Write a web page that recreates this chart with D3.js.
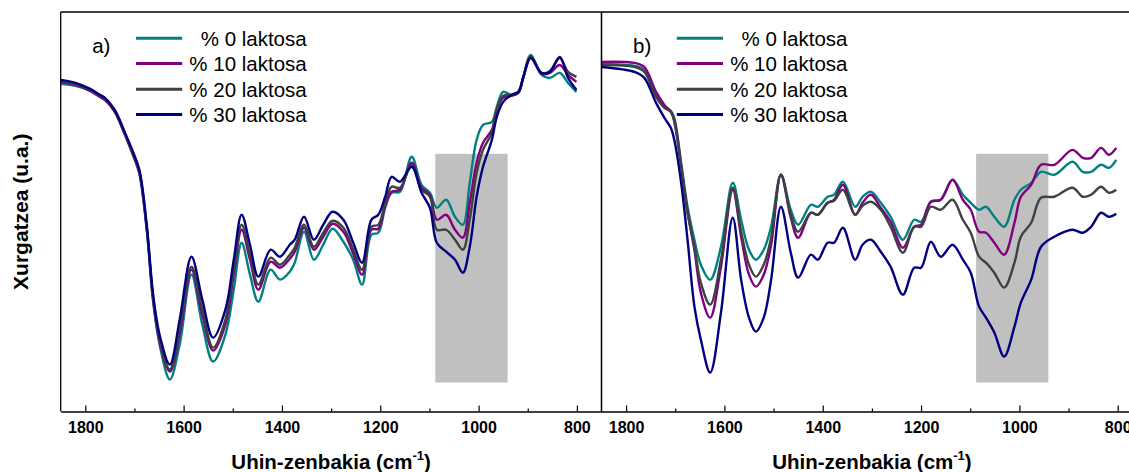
<!DOCTYPE html>
<html>
<head>
<meta charset="utf-8">
<script src="https://cdn.jsdelivr.net/npm/d3@7"></script>
<style>
  html, body { margin: 0; padding: 0; background: #fff; }
  svg { display: block; }
  text { font-family: "Liberation Sans", Arial, sans-serif; fill: #000; }
</style>
</head>
<body>
<svg id="chart" width="1129" height="472"></svg>
<script>
// ---------------- DATA ----------------
const seriesLabels = ["% 0 laktosa", "% 10 laktosa", "% 20 laktosa", "% 30 laktosa"];
const seriesColors = ["#008080", "#800080", "#404040", "#000080"];
const panelLabels = ["a)", "b)"];
const xTickValues = [1800, 1600, 1400, 1200, 1000, 800];
const xMinorTicks = [1700, 1500, 1300, 1100, 900];
const xDomain = [1850, 750];
const yDomain = [0, 400];
const highlightBand = [1088, 941];
const highlightRange = [29, 258];

// panel a
const wnA = [1850,1820,1790,1770,1760,1740,1720,1703,1690,1675,
             1662,1648,1628,1608,1584,1562,1540,1515,1498,1482,
             1465,1448,1423,1404,1384,1374,1355,1335,1316,1297,
             1275,1255,1237,1218,1204,1190,1177,1160,1136,1116,
             1099,1085,1066,1048,1032,1018,1004,991,973,963,
             950,933,919,909,894,872,855,835,818,801];
const a0  = [328,326,321,315,312,300,278,257,238,182, 110,65,32,67,137,87,50,77,122,169,
             137,110,142,132,140,149,180,152,167,183, 170,152,127,177,179,204,219,220,255,227,
             219,204,212,195,187,229,272,287,290,305, 320,317,320,335,357,337,334,339,329,320];
const a10 = [330,327,321,315,312,300,278,257,239,183, 112,68,40,77,142,97,61,87,137,182,
             152,122,150,144,153,160,184,162,175,188, 180,158,137,182,183,206,220,222,249,224,
             217,192,197,182,174,209,249,269,282,302, 314,316,319,334,355,338,339,347,337,330];
const a20 = [331,328,322,316,313,301,279,258,240,184, 114,70,42,82,145,102,64,92,142,187,
             157,127,154,147,157,164,187,165,179,191, 184,162,142,185,187,209,225,224,247,222,
             215,182,182,172,162,192,239,262,279,302, 316,317,320,335,356,339,341,354,340,335];
const a30 = [332,329,323,317,314,302,280,260,242,187, 117,75,47,92,155,112,74,102,152,197,
             167,135,162,155,167,172,195,172,187,200, 192,169,149,192,197,215,235,230,245,219,
             204,169,160,152,139,165,215,245,272,295, 310,317,320,335,354,339,340,355,334,322];

// panel b
const wnB = [1850,1783,1763,1739,1722,1709,1702,1688,1675,1661,
             1648,1629,1607,1583,1566,1550,1536,1520,1505,1485,
             1465,1450,1424,1410,1390,1377,1359,1334,1319,1302,
             1282,1262,1237,1214,1200,1180,1160,1136,1115,1099,
             1082,1068,1051,1031,1010,997,976,956,929,892,
             871,854,834,818,803];
const b0  = [348,346,342,317,305,301,294,249,205,172, 147,132,165,229,192,162,152,162,185,237,
             202,187,207,205,215,217,230,205,215,220, 209,195,172,192,190,210,212,232,217,209,
             202,205,195,185,212,222,229,240,237,250, 240,240,247,244,252];
const b10 = [350,349,345,320,307,300,292,247,200,162, 119,94,145,222,175,137,125,137,167,237,
             194,174,199,197,209,212,227,197,209,217, 204,190,164,185,187,210,212,232,212,202,
             180,179,169,157,189,215,227,247,247,262, 254,254,264,257,264];
const b20 = [347,345,340,315,304,300,290,245,199,165, 129,107,152,224,180,147,135,147,174,237,
             197,180,199,197,209,211,222,197,206,210, 202,185,159,185,185,205,202,212,192,179,
             155,149,139,124,149,175,189,214,215,224, 215,217,225,219,222];
const b30 = [345,340,334,309,294,284,272,229,172,105, 72,39,99,194,132,94,80,94,132,205,
             159,134,157,152,169,169,184,152,167,172, 160,145,117,144,144,170,155,167,152,139,
             105,94,79,55,85,109,132,165,175,182, 179,185,199,195,198];

// ---------------- DRAW ----------------
const svg = d3.select("#chart");
const plotTop = 12, plotBottom = 411.5;
const panels = [
  { left: 60.7, right: 601.5, wn: wnA, series: [a0, a10, a20, a30], label: panelLabels[0] },
  { left: 601.5, right: 1142.3, wn: wnB, series: [b0, b10, b20, b30], label: panelLabels[1] }
];

const y = d3.scaleLinear().domain(yDomain).range([plotBottom, plotTop]);

panels.forEach((p, pi) => {
  const x = d3.scaleLinear().domain(xDomain).range([p.left, p.right]);
  const g = svg.append("g");

  // highlight band
  g.append("rect")
    .attr("x", x(highlightBand[0]))
    .attr("width", x(highlightBand[1]) - x(highlightBand[0]))
    .attr("y", y(highlightRange[1]))
    .attr("height", y(highlightRange[0]) - y(highlightRange[1]))
    .attr("fill", "#c0c0c0");

  // curves
  const line = d3.line()
    .x(d => x(d[0]))
    .y(d => y(d[1]))
    .curve(d3.curveCatmullRom.alpha(0.5));
  p.series.forEach((vals, si) => {
    const pts = p.wn.map((w, i) => [w, vals[i]]);
    g.append("path")
      .datum(pts)
      .attr("d", line)
      .attr("fill", "none")
      .attr("stroke", seriesColors[si])
      .attr("stroke-width", 2.4)
      .attr("stroke-linejoin", "round");
  });

  // frame
  g.append("line").attr("x1", p.left).attr("x2", p.right).attr("y1", plotTop).attr("y2", plotTop)
    .attr("stroke", "#000").attr("stroke-width", 1.3);
  g.append("line").attr("x1", p.left).attr("x2", p.left).attr("y1", plotTop).attr("y2", plotBottom)
    .attr("stroke", "#000").attr("stroke-width", 1.3);
  g.append("line").attr("x1", p.right).attr("x2", p.right).attr("y1", plotTop).attr("y2", plotBottom)
    .attr("stroke", "#000").attr("stroke-width", 1.3);

  // minor ticks
  const minorAxis = d3.axisBottom(x).tickValues(xMinorTicks).tickSize(-3).tickFormat("");
  const gm = g.append("g").attr("transform", `translate(0,${plotBottom})`).call(minorAxis);
  gm.select(".domain").remove();
  gm.selectAll(".tick line").attr("stroke", "#000").attr("stroke-width", 1.2);

  // major axis
  const axis = d3.axisBottom(x).tickValues(xTickValues).tickSize(-6).tickSizeOuter(0)
    .tickPadding(0).tickFormat(d3.format("d"));
  const ga = g.append("g").attr("transform", `translate(0,${plotBottom})`).call(axis);
  ga.select(".domain").attr("stroke", "#000").attr("stroke-width", 1.3);
  ga.selectAll(".tick line").attr("stroke", "#000").attr("stroke-width", 1.2);
  ga.selectAll(".tick text")
    .attr("y", 21.5).attr("dy", null)
    .style("font-family", "'Liberation Sans', Arial, sans-serif")
    .style("font-size", "16px").style("font-weight", "bold").attr("fill", "#000");

  // x-axis title
  const cx = (p.left + p.right) / 2;
  const t = svg.append("text")
    .attr("x", cx).attr("y", 468.5)
    .attr("text-anchor", "middle")
    .style("font-size", "20.5px").style("font-weight", "bold");
  t.append("tspan").text("Uhin-zenbakia (cm");
  t.append("tspan").attr("dy", -8.5).style("font-size", "13px").text("-1");
  t.append("tspan").attr("dy", 8.5).text(")");

  // panel label
  svg.append("text").attr("x", p.left + 31.5).attr("y", 53)
    .style("font-size", "20.5px").text(p.label);

  // legend
  const rows = [38.3, 63.5, 89.2, 114.6];
  seriesLabels.forEach((lab, si) => {
    svg.append("line")
      .attr("x1", p.left + 75.3).attr("x2", p.left + 121.5)
      .attr("y1", rows[si]).attr("y2", rows[si])
      .attr("stroke", seriesColors[si]).attr("stroke-width", 3);
    svg.append("text")
      .attr("x", p.left + 246).attr("y", rows[si] + 7.6)
      .attr("text-anchor", "end")
      .style("font-size", "20.5px")
      .text(lab);
  });
});

// y-axis title
svg.append("text")
  .attr("transform", `translate(27.5,${(plotTop + plotBottom) / 2}) rotate(-90)`)
  .attr("text-anchor", "middle")
  .style("font-size", "21px").style("font-weight", "bold")
  .text("Xurgatzea (u.a.)");
</script>
</body>
</html>
